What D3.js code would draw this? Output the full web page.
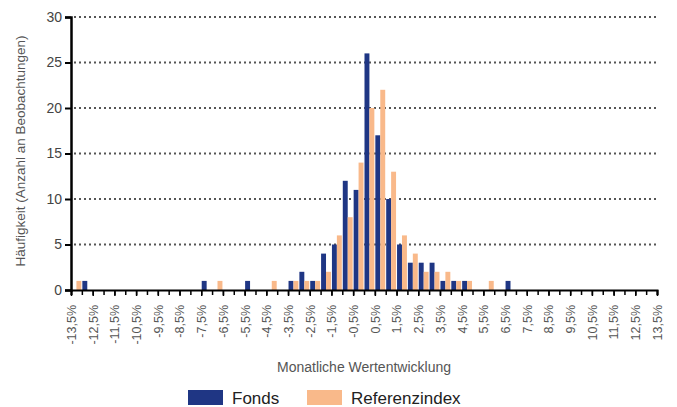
<!DOCTYPE html>
<html>
<head>
<meta charset="utf-8">
<script src="https://cdn.jsdelivr.net/npm/d3@7/dist/d3.min.js"></script>
<style>
  body { margin: 0; background: #fff; }
  svg { font-family: "Liberation Sans", Arial, sans-serif; }
</style>
</head>
<body>
<div id="chart"></div>
<script>
// bins of 0.5% width, lower bound from -13.5% up to 13.0%
const binStarts = d3.range(54).map(i => -13.5 + 0.5 * i);
const fonds = [0,1,0,0,0,0,0,0,0,0,0,0,1,0,0,0,1,0,0,0,1,2,1,4,5,12,11,26,17,10,5,3,3,3,1,1,1,0,0,0,1,0,0,0,0,0,0,0,0,0,0,0,0,0];
const referenz = [1,0,0,0,0,0,0,0,0,0,0,0,0,1,0,0,0,0,1,0,1,1,1,2,6,8,14,20,22,13,6,4,2,2,2,1,1,0,1,0,0,0,0,0,0,0,0,0,0,0];
const seriesNames = ["Fonds", "Referenzindex"];
const seriesColors = ["#1f3684", "#f9b98a"];
const xTickValues = d3.range(28).map(i => -13.5 + i);
const yTickValues = [0, 5, 10, 15, 20, 25, 30];

const width = 677, height = 407;
const margin = {top: 17, right: 20, bottom: 117, left: 71};
const innerW = 657 - margin.left;
const innerH = 290 - margin.top;

const svg = d3.select("#chart").append("svg")
    .attr("width", width)
    .attr("height", height);

const g = svg.append("g")
    .attr("transform", "translate(" + margin.left + "," + margin.top + ")");

const xBand = d3.scaleBand().domain(binStarts).range([0, innerW]).padding(0);
const xSub = d3.scaleBand().domain(seriesNames).range([0, xBand.bandwidth()]).paddingOuter(0.1);
const xLin = d3.scaleLinear().domain([-13.5, 13.5]).range([0, innerW]);
const yScale = d3.scaleLinear().domain([0, 30]).range([innerH, 0]);

// dotted gridlines
g.append("g")
    .selectAll("line")
    .data(yTickValues.slice(1))
    .join("line")
    .attr("x1", 3)
    .attr("x2", innerW + 2)
    .attr("y1", d => yScale(d))
    .attr("y2", d => yScale(d))
    .attr("stroke", "#555")
    .attr("stroke-width", 2)
    .attr("stroke-dasharray", "2,3");

// bars
const rows = binStarts.map((b, i) => ({bin: b, values: [fonds[i], referenz[i]]}));
const binG = g.append("g").selectAll("g")
    .data(rows)
    .join("g")
    .attr("transform", d => "translate(" + xBand(d.bin) + ",0)");

binG.selectAll("rect")
    .data(d => d.values.map((v, k) => ({name: seriesNames[k], value: v, color: seriesColors[k]})))
    .join("rect")
    .attr("x", d => xSub(d.name))
    .attr("width", xSub.bandwidth())
    .attr("y", d => yScale(d.value))
    .attr("height", d => innerH - yScale(d.value))
    .attr("fill", d => d.color);

// x axis with minor ticks on bin bounds
const fmt = v => d3.format(".1f")(v).replace(".", ",").replace("−", "-") + "%";
const xAxisG = g.append("g")
    .attr("transform", "translate(0," + innerH + ")");
xAxisG.call(d3.axisBottom(xLin).tickValues(d3.range(55).map(i => -13.5 + 0.5 * i)).tickSize(5).tickFormat(""));
xAxisG.select(".domain").attr("stroke", "#000").attr("stroke-width", 2);
xAxisG.selectAll(".tick line").attr("stroke", "#000").attr("stroke-width", 1.5);

const xLabelG = g.append("g")
    .attr("transform", "translate(0," + innerH + ")")
    .call(d3.axisBottom(xLin).tickValues(xTickValues).tickSize(6).tickFormat(fmt));
xLabelG.select(".domain").remove();
xLabelG.selectAll(".tick line").attr("stroke", "#000").attr("stroke-width", 1.5);
xLabelG.selectAll(".tick text")
    .attr("transform", "rotate(-90)")
    .attr("x", -15)
    .attr("y", 0)
    .attr("dy", "0.35em")
    .style("text-anchor", "end")
    .style("font-size", "12.5px")
    .attr("fill", "#555");

// y axis
const yAxisG = g.append("g")
    .call(d3.axisLeft(yScale).tickValues(yTickValues).tickSize(6).tickPadding(3));
yAxisG.select(".domain").attr("stroke", "#000").attr("stroke-width", 2.5);
yAxisG.selectAll(".tick line").attr("stroke", "#000").attr("stroke-width", 2);
yAxisG.selectAll(".tick text")
    .style("font-size", "14px")
    .attr("fill", "#444");

// axis titles
svg.append("text")
    .attr("x", margin.left + innerW / 2)
    .attr("y", 372)
    .style("text-anchor", "middle")
    .style("font-size", "14px")
    .attr("fill", "#555")
    .text("Monatliche Wertentwicklung");

svg.append("text")
    .attr("transform", "rotate(-90)")
    .attr("x", -151)
    .attr("y", 25)
    .style("text-anchor", "middle")
    .style("font-size", "13.5px")
    .attr("fill", "#555")
    .text("Häufigkeit (Anzahl an Beobachtungen)");

// legend
const legendX = [188, 307];
const legend = svg.append("g").selectAll("g")
    .data(seriesNames)
    .join("g")
    .attr("transform", (d, i) => "translate(" + legendX[i] + ",390)");
legend.append("rect")
    .attr("width", 35)
    .attr("height", 15)
    .attr("fill", (d, i) => seriesColors[i]);
legend.append("text")
    .attr("x", 44)
    .attr("y", 14)
    .style("font-size", "17px")
    .attr("fill", "#222")
    .text(d => d);
</script>
</body>
</html>
